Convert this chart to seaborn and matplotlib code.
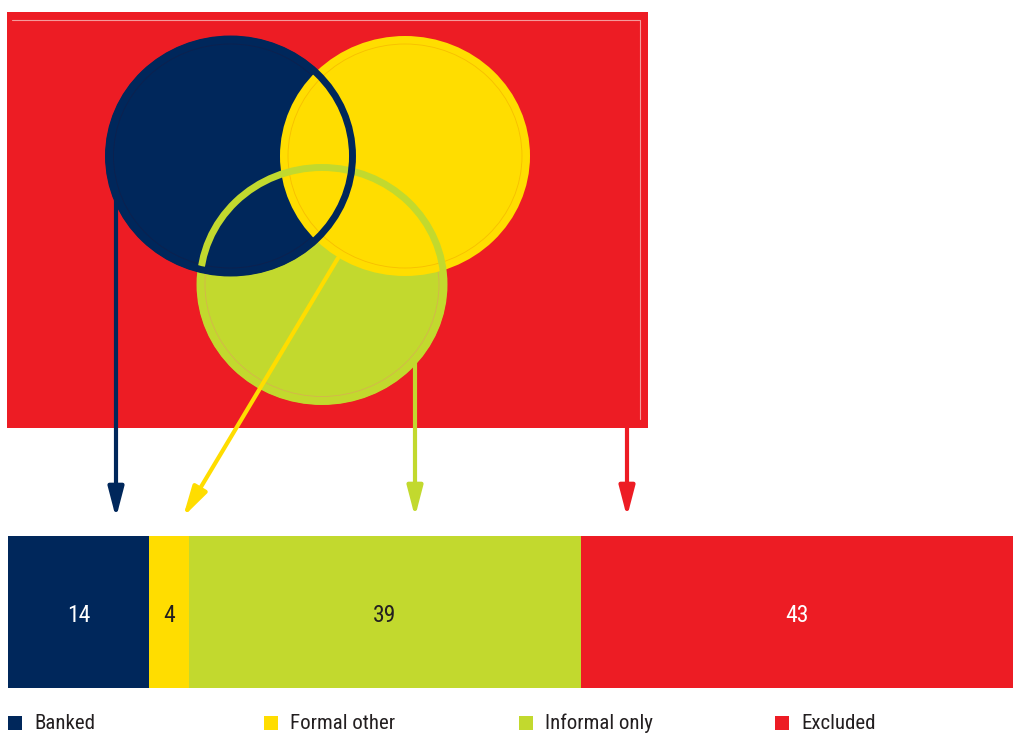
import matplotlib
matplotlib.use("Agg")
import matplotlib.pyplot as plt
from matplotlib.patches import Ellipse, Rectangle, FancyArrowPatch
from matplotlib import font_manager
import numpy as np
import pandas as pd
import seaborn as sns

# Shares of adults by financial-access group (%)
groups = ["Banked", "Formal other", "Informal only", "Excluded"]
shares = [14, 4, 39, 43]
colors = ["#00275B", "#FFDD00", "#C2D92E", "#ED1C24"]
label_colors = ["white", "#231F20", "#231F20", "white"]

sns.set_theme(style="white")
available = {f.name for f in font_manager.fontManager.ttflist}
preferred = [f for f in ["Roboto Condensed", "Liberation Sans Narrow", "Roboto"]
             if f in available]
plt.rcParams["font.family"] = preferred + ["DejaVu Sans"]

W, H = 1013, 735
fig = plt.figure(figsize=(W / 100, H / 100), dpi=100, facecolor="white")

# ---- stacked bar of the four groups ----
ax_bar = fig.add_axes([8 / W, (H - 688) / H, 1005 / W, 152 / H])
cum = np.cumsum(shares)
df = pd.DataFrame({"group": groups, "share": shares, "cum": cum})
for i in range(len(groups) - 1, -1, -1):
    sns.barplot(x=[df["cum"].iloc[i]], y=["all"], color=colors[i], width=1.0,
                saturation=1, orient="h", ax=ax_bar, edgecolor="none")
ax_bar.set_xlim(0, 100)
ax_bar.set_ylim(0.5, -0.5)
ax_bar.axis("off")
for i in range(len(groups)):
    ax_bar.text(df["cum"].iloc[i] - shares[i] / 2, 0.02, str(shares[i]),
                ha="center", va="center", fontsize=17, color=label_colors[i])

# ---- Venn panel in pixel space ----
ax = fig.add_axes([0, 0, 1, 1])
ax.set_xlim(0, W)
ax.set_ylim(H, 0)
ax.axis("off")
ax.patch.set_alpha(0)

ax.add_patch(Rectangle((7, 12), 641, 416, facecolor=colors[3], edgecolor="none", zorder=1))
ax.plot([12, 640, 640], [20, 20, 419], color="#F59A9A", lw=0.8, zorder=1.5)

navy_c, yel_c, grn_c = (230.5, 156), (405, 156), (322, 284.5)
rx, ry = 122, 117

def disc(center, fc, inner, z):
    ax.add_patch(Ellipse(center, 2 * (rx + 3), 2 * (ry + 3), facecolor=fc,
                         edgecolor="none", zorder=z))
    ax.add_patch(Ellipse(center, 2 * (rx - 5), 2 * (ry - 5), facecolor="none",
                         edgecolor=inner, lw=0.6, alpha=0.5, zorder=z + 0.1))

disc(grn_c, colors[2], "#E8906A", 2)
disc(navy_c, colors[0], "#1A1A40", 3)
disc(yel_c, colors[1], "#F0A000", 4)

# outlines carried over the overlaps
ax.add_patch(Ellipse(grn_c, 2 * rx, 2 * ry, facecolor="none",
                     edgecolor=colors[2], lw=5, zorder=5))
ax.add_patch(Ellipse(navy_c, 2 * rx, 2 * ry, facecolor="none",
                     edgecolor=colors[0], lw=5, zorder=6))

# ---- arrows from each region down to the bar ----
arrows = [((116, 200), (116, 518), colors[0]),
          ((338, 258), (183, 517), colors[1]),
          ((415, 360), (415, 517), colors[2]),
          ((627, 427), (627, 517), colors[3])]
for start, end, c in arrows:
    ax.add_patch(FancyArrowPatch(start, end,
                                 arrowstyle="-|>,head_length=1.8,head_width=0.47",
                                 mutation_scale=10, lw=3, color=c,
                                 shrinkA=0, shrinkB=0, zorder=7))

# ---- legend row ----
for i, g in enumerate(groups):
    x0 = 8 + i * 255.7
    ax.add_patch(Rectangle((x0, 716), 14, 14, facecolor=colors[i],
                           edgecolor="none", zorder=8))
    ax.text(x0 + 26, 729, g, ha="left", va="baseline", fontsize=15,
            color="#231F20", zorder=8)

fig.savefig("out.png", dpi=100, facecolor="white")
